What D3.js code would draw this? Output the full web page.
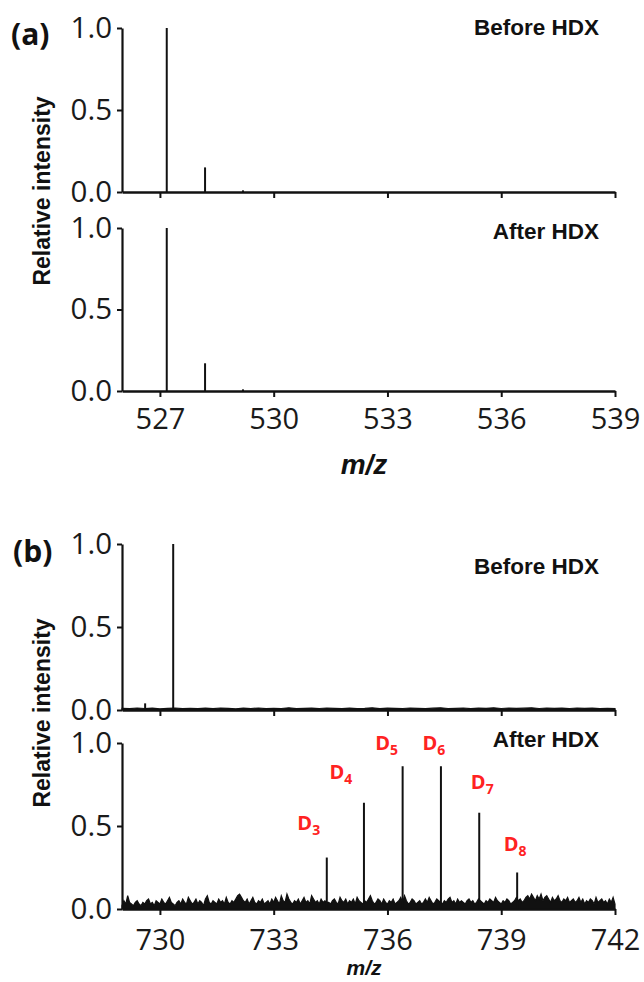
<!DOCTYPE html>
<html><head><meta charset="utf-8">
<script src="https://cdn.jsdelivr.net/npm/d3@7/dist/d3.min.js"></script>
<style>body{margin:0;background:#fff}svg{display:block}</style>
</head><body>
<svg id="c" width="644" height="982"></svg>
<script>
// ---------- data ----------
const yTickValues = [0, 0.5, 1.0];
const aTicks = [527, 530, 533, 536, 539];
const bTicks = [730, 733, 736, 739, 742];
const aDomain = [526, 539];
const bDomain = [729, 742];

const aPeakMz = [527.18, 528.19, 529.19];
const aBeforeIntensity = [1.0, 0.15, 0.01];
const aAfterIntensity = [1.0, 0.17, 0.01];

const bBeforePeakMz = [729.61, 730.35];
const bBeforePeakIntensity = [0.04, 1.0];

const bAfterPeakMz = [734.40, 735.38, 736.40, 737.41, 738.42, 739.42];
const bAfterPeakIntensity = [0.31, 0.64, 0.86, 0.86, 0.58, 0.22];
const bAfterPeakLabels = ["3", "4", "5", "6", "7", "8"];

// baseline noise, before HDX (b), m/z 729.0 .. 742.0 step 0.2
const bBeforeNoiseStart = 729.0, bBeforeNoiseStep = 0.2;
const bBeforeNoise = [0.010,0.008,0.012,0.009,0.011,0.007,0.010,0.012,0.008,0.010,
0.009,0.011,0.008,0.012,0.010,0.007,0.011,0.009,0.012,0.008,
0.010,0.009,0.013,0.008,0.010,0.011,0.009,0.012,0.010,0.008,
0.011,0.009,0.010,0.013,0.008,0.011,0.010,0.009,0.012,0.010,
0.008,0.011,0.013,0.009,0.010,0.012,0.008,0.011,0.010,0.013,
0.009,0.012,0.010,0.011,0.013,0.009,0.012,0.010,0.011,0.009,
0.012,0.010,0.011,0.009,0.010,0.008];

// baseline noise, after HDX (b), m/z 729.00 .. 742.00 step 0.05
const bAfterNoiseStart = 729.0, bAfterNoiseStep = 0.05;
const bAfterNoise = [
0.02,0.05,0.03,0.08,0.04,0.03,0.02,0.04,0.05,0.03,0.02,0.04,0.03,0.05,0.06,0.03,0.04,0.02,0.05,0.04,
0.03,0.06,0.04,0.03,0.05,0.07,0.04,0.03,0.02,0.04,0.05,0.03,0.06,0.04,0.03,0.07,0.05,0.03,0.04,0.06,
0.03,0.05,0.04,0.02,0.06,0.08,0.04,0.03,0.05,0.04,0.03,0.06,0.04,0.05,0.03,0.07,0.04,0.03,0.05,0.04,
0.06,0.08,0.09,0.07,0.05,0.04,0.06,0.03,0.05,0.07,0.04,0.03,0.05,0.04,0.06,0.03,0.04,0.05,0.03,0.06,
0.04,0.07,0.05,0.03,0.08,0.05,0.04,0.09,0.06,0.04,0.03,0.05,0.04,0.06,0.03,0.05,0.07,0.04,0.05,0.03,
0.08,0.06,0.04,0.05,0.03,0.06,0.04,0.05,0.04,0.04,0.03,0.05,0.06,0.04,0.03,0.07,0.05,0.04,0.06,0.03,
0.05,0.04,0.06,0.03,0.07,0.05,0.04,0.03,0.05,0.04,0.06,0.08,0.05,0.03,0.04,0.06,0.05,0.03,0.06,0.04,
0.03,0.05,0.04,0.06,0.03,0.04,0.05,0.07,0.04,0.08,0.05,0.03,0.04,0.06,0.05,0.03,0.04,0.05,0.03,0.04,
0.06,0.04,0.07,0.05,0.03,0.04,0.06,0.05,0.04,0.03,0.05,0.04,0.06,0.07,0.04,0.05,0.03,0.06,0.04,0.05,
0.04,0.03,0.05,0.06,0.04,0.05,0.03,0.04,0.06,0.05,0.04,0.03,0.05,0.04,0.06,0.05,0.04,0.07,0.05,0.04,
0.03,0.05,0.04,0.06,0.05,0.03,0.04,0.05,0.07,0.05,0.06,0.04,0.05,0.07,0.08,0.06,0.09,0.07,0.05,0.08,
0.06,0.09,0.05,0.07,0.08,0.06,0.04,0.07,0.05,0.06,0.08,0.05,0.04,0.06,0.05,0.07,0.04,0.05,0.06,0.04,
0.05,0.07,0.04,0.06,0.03,0.05,0.04,0.06,0.05,0.03,0.07,0.04,0.05,0.06,0.04,0.05,0.03,0.06,0.04,0.07,
0.03];

// ---------- layout ----------
const svg = d3.select("#c");
const X0 = 122, X1 = 615;
const numFont = "'Open Sans', sans-serif";
const labFont = "'Liberation Sans', Arial, sans-serif";

function panel(cfg) {
  const x = d3.scaleLinear().domain(cfg.domain).range([X0, X1]);
  const y = d3.scaleLinear().domain([0, 1]).range([cfg.bottom, cfg.top]);
  const g = svg.append("g");

  // noise
  if (cfg.noise) {
    const pts = cfg.noise.map((v, i) => [cfg.noiseStart + i * cfg.noiseStep, v]);
    const area = d3.area().x(d => x(d[0])).y0(y(0)).y1(d => y(d[1]));
    g.append("path").attr("d", area(pts)).attr("fill", "#111")
      .attr("stroke", "#111").attr("stroke-width", 1.2).attr("stroke-linejoin", "miter");
  }
  // peaks (stems)
  g.selectAll("line.peak").data(cfg.mz.map((m, i) => [m, cfg.intensity[i]]))
    .enter().append("line").attr("class", "peak")
    .attr("x1", d => x(d[0])).attr("x2", d => x(d[0]))
    .attr("y1", y(0)).attr("y2", d => y(d[1]))
    .attr("stroke", "#111").attr("stroke-width", 2);

  // y axis
  const ya = g.append("g").attr("transform", `translate(${X0},0)`)
    .call(d3.axisLeft(y).tickValues(yTickValues).tickFormat(d3.format(".1f")).tickSize(5).tickSizeOuter(0).tickPadding(5));
  ya.select(".domain").attr("stroke", "#111").attr("stroke-width", 2.2);
  ya.selectAll(".tick line").attr("stroke", "#111").attr("stroke-width", 2);
  ya.selectAll(".tick text").attr("font-family", numFont).attr("font-size", 29.5).attr("fill", "#1a1a1a");

  // x axis
  const xa = g.append("g").attr("transform", `translate(0,${cfg.bottom})`)
    .call(d3.axisBottom(x).tickValues(cfg.ticks).tickFormat(cfg.showLabels ? d3.format("d") : "").tickSize(6).tickSizeOuter(0).tickPadding(cfg.pad || 11));
  xa.select(".domain").attr("stroke", "#111").attr("stroke-width", 2.4);
  xa.selectAll(".tick line").attr("stroke", "#111").attr("stroke-width", 2);
  xa.selectAll(".tick text").attr("font-family", numFont).attr("font-size", 29).attr("fill", "#1a1a1a");

  // title
  g.append("text").attr("x", 599).attr("y", cfg.titleY).attr("text-anchor", "end")
    .attr("font-family", labFont).attr("font-weight", "bold").attr("font-size", 22.5)
    .attr("fill", "#111").attr("dominant-baseline", "central").text(cfg.title);
  return { x, y, g };
}

// panel (a)
panel({ domain: aDomain, ticks: aTicks, top: 28, bottom: 192, mz: aPeakMz, intensity: aBeforeIntensity, title: "Before HDX", titleY: 27 });
panel({ domain: aDomain, ticks: aTicks, top: 228, bottom: 391, mz: aPeakMz, intensity: aAfterIntensity, title: "After HDX", titleY: 231, showLabels: true, pad: 11 });

// panel (b)
panel({ domain: bDomain, ticks: bTicks, top: 544, bottom: 710, mz: bBeforePeakMz, intensity: bBeforePeakIntensity, title: "Before HDX", titleY: 566,
  noise: bBeforeNoise, noiseStart: bBeforeNoiseStart, noiseStep: bBeforeNoiseStep });
const pb = panel({ domain: bDomain, ticks: bTicks, top: 743, bottom: 909, mz: bAfterPeakMz, intensity: bAfterPeakIntensity, title: "After HDX", titleY: 739, showLabels: true, pad: 14,
  noise: bAfterNoise, noiseStart: bAfterNoiseStart, noiseStep: bAfterNoiseStep });

// D labels
const labelDx = [-18, -23, -16, -7, 3, -2];
const labelDy = [-35, -31, -23, -23, -31, -28];
bAfterPeakMz.forEach((m, i) => {
  const t = pb.g.append("text")
    .attr("x", pb.x(m) + labelDx[i]).attr("y", pb.y(bAfterPeakIntensity[i]) + labelDy[i] + 7)
    .attr("text-anchor", "middle").attr("font-family", numFont).attr("font-weight", "bold")
    .attr("fill", "#ff2222").attr("font-size", 20);
  t.append("tspan").text("D");
  t.append("tspan").attr("font-size", 14).attr("dy", 5).text(bAfterPeakLabels[i]);
});

// panel letters
svg.append("text").attr("x", 11).attr("y", 45).attr("font-family", numFont).attr("font-weight", "bold")
  .attr("font-size", 30).attr("fill", "#111").text("(a)");
svg.append("text").attr("x", 13).attr("y", 562).attr("font-family", numFont).attr("font-weight", "bold")
  .attr("font-size", 30).attr("fill", "#111").text("(b)");

// y labels
[[191], [713]].forEach(([cy]) => {
  svg.append("text").attr("transform", `translate(42,${cy}) rotate(-90)`)
    .attr("text-anchor", "middle").attr("dominant-baseline", "central")
    .attr("font-family", labFont).attr("font-weight", "bold").attr("font-size", 23)
    .attr("fill", "#111").text("Relative intensity");
});

// x labels
svg.append("text").attr("x", 364).attr("y", 474).attr("text-anchor", "middle")
  .attr("font-family", labFont).attr("font-weight", "bold").attr("font-style", "italic")
  .attr("font-size", 28).attr("fill", "#111").text("m/z");
svg.append("text").attr("x", 364).attr("y", 975).attr("text-anchor", "middle")
  .attr("font-family", labFont).attr("font-weight", "bold").attr("font-style", "italic")
  .attr("font-size", 21).attr("fill", "#111").text("m/z");
</script>
</body></html>
